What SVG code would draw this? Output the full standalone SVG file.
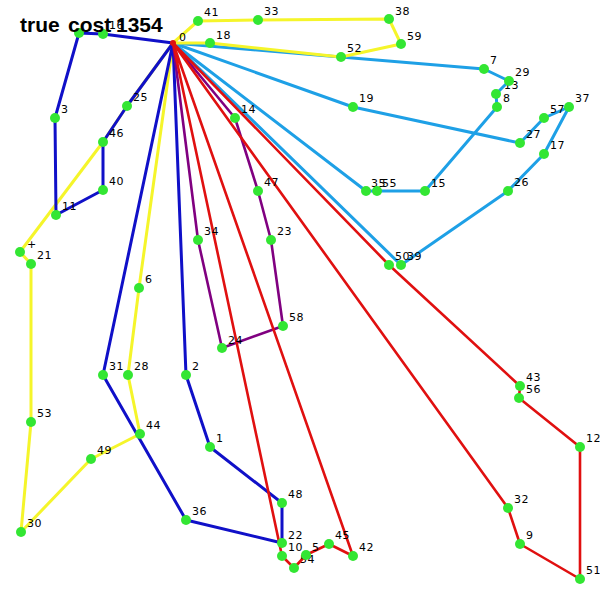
<svg xmlns="http://www.w3.org/2000/svg" width="600" height="600" viewBox="0 0 600 600">
<style>
.e{fill:none;stroke-width:3;stroke-linejoin:round;stroke-linecap:round}
.lb{stroke:#1ea0e6}
.ye{stroke:#f5f52a}
.bl{stroke:#1010c8}
.pu{stroke:#800080;stroke-width:2.6}
.rd{stroke:#e01010;stroke-width:2.6}
.n circle{fill:#33e633}
.n text{font-family:"DejaVu Sans",sans-serif;font-size:11px;letter-spacing:0.6px;fill:#000}
.t{font-family:"Liberation Sans",Arial,sans-serif;font-weight:bold;font-size:21px;fill:#000}
</style>
<rect width="600" height="600" fill="#ffffff"/>
<g id="connectors">
<polyline class="e lb" points="173,43 484,69 509,81 496,94 497,107 425,191 377,191 366,191 173,43"/>
<polyline class="e lb" points="173,43 353,107 520,143 544,118 569,107 544,154 508,191 401,265 173,43"/>
<polyline class="e ye" points="173,43 198,21 258,20 389,19 401,44 341,57 210,43 173,43"/>
<polyline class="e ye" points="173,43 139,288 128,375 140,434 91,459 21,532 31,422 31,264 20,252 103,142 127,106 173,43"/>
<polyline class="e bl" points="173,43 103,34 79,33 55,118 56,215 103,190 103,142 127,106 173,43"/>
<polyline class="e bl" points="173,43 186,375 210,447 282,503 282,543 186,520 103,375 173,43"/>
<polyline class="e pu" points="173,43 198,240 222,348 283,326 271,240 258,191 235,118 173,43"/>
<polyline class="e rd" points="173,43 282,556 294,568 306,555 329,544 353,556 173,43"/>
<polyline class="e rd" points="173,43 389,265 520,386 519,398 580,447 580,579 520,544 508,508 173,43"/>
</g>
<g class="n">
<g id="node-0"><circle cx="173" cy="43" r="3" style="fill:#e01010"/><text x="179" y="41">0</text></g>
<g id="node-16"><circle cx="103" cy="34" r="5"/><text x="109" y="29">16</text></g>
<g id="node-a"><circle cx="79" cy="33" r="5"/></g>
<g id="node-3"><circle cx="55" cy="118" r="5"/><text x="61" y="113">3</text></g>
<g id="node-11"><circle cx="56" cy="215" r="5"/><text x="62" y="210">11</text></g>
<g id="node-40"><circle cx="103" cy="190" r="5"/><text x="109" y="185">40</text></g>
<g id="node-46"><circle cx="103" cy="142" r="5"/><text x="109" y="137">46</text></g>
<g id="node-25"><circle cx="127" cy="106" r="5"/><text x="133" y="101">25</text></g>
<g id="node-plus"><circle cx="20" cy="252" r="5"/><text x="27" y="248">+</text></g>
<g id="node-21"><circle cx="31" cy="264" r="5"/><text x="37" y="259">21</text></g>
<g id="node-53"><circle cx="31" cy="422" r="5"/><text x="37" y="417">53</text></g>
<g id="node-30"><circle cx="21" cy="532" r="5"/><text x="27" y="527">30</text></g>
<g id="node-49"><circle cx="91" cy="459" r="5"/><text x="97" y="454">49</text></g>
<g id="node-44"><circle cx="140" cy="434" r="5"/><text x="146" y="429">44</text></g>
<g id="node-28"><circle cx="128" cy="375" r="5"/><text x="134" y="370">28</text></g>
<g id="node-6"><circle cx="139" cy="288" r="5"/><text x="145" y="283">6</text></g>
<g id="node-31"><circle cx="103" cy="375" r="5"/><text x="109" y="370">31</text></g>
<g id="node-36"><circle cx="186" cy="520" r="5"/><text x="192" y="515">36</text></g>
<g id="node-2"><circle cx="186" cy="375" r="5"/><text x="192" y="370">2</text></g>
<g id="node-1"><circle cx="210" cy="447" r="5"/><text x="216" y="442">1</text></g>
<g id="node-48"><circle cx="282" cy="503" r="5"/><text x="288" y="498">48</text></g>
<g id="node-22"><circle cx="282" cy="543" r="5"/><text x="288" y="539">22</text></g>
<g id="node-10"><circle cx="282" cy="556" r="5"/><text x="288" y="551">10</text></g>
<g id="node-54"><circle cx="294" cy="568" r="5"/><text x="300" y="563">54</text></g>
<g id="node-5"><circle cx="306" cy="555" r="5"/><text x="312" y="551">5</text></g>
<g id="node-45"><circle cx="329" cy="544" r="5"/><text x="335" y="539">45</text></g>
<g id="node-42"><circle cx="353" cy="556" r="5"/><text x="359" y="551">42</text></g>
<g id="node-34"><circle cx="198" cy="240" r="5"/><text x="204" y="235">34</text></g>
<g id="node-24"><circle cx="222" cy="348" r="5"/><text x="228" y="344">24</text></g>
<g id="node-58"><circle cx="283" cy="326" r="5"/><text x="289" y="321">58</text></g>
<g id="node-23"><circle cx="271" cy="240" r="5"/><text x="277" y="235">23</text></g>
<g id="node-47"><circle cx="258" cy="191" r="5"/><text x="264" y="186">47</text></g>
<g id="node-14"><circle cx="235" cy="118" r="5"/><text x="241" y="113">14</text></g>
<g id="node-41"><circle cx="198" cy="21" r="5"/><text x="204" y="16">41</text></g>
<g id="node-33"><circle cx="258" cy="20" r="5"/><text x="264" y="15">33</text></g>
<g id="node-38"><circle cx="389" cy="19" r="5"/><text x="395" y="15">38</text></g>
<g id="node-59"><circle cx="401" cy="44" r="5"/><text x="407" y="40">59</text></g>
<g id="node-52"><circle cx="341" cy="57" r="5"/><text x="347" y="52">52</text></g>
<g id="node-18"><circle cx="210" cy="43" r="5"/><text x="216" y="39">18</text></g>
<g id="node-19"><circle cx="353" cy="107" r="5"/><text x="359" y="102">19</text></g>
<g id="node-7"><circle cx="484" cy="69" r="5"/><text x="490" y="64">7</text></g>
<g id="node-13"><circle cx="496" cy="94" r="5"/><text x="504" y="89">13</text></g>
<g id="node-29"><circle cx="509" cy="81" r="5"/><text x="515" y="76">29</text></g>
<g id="node-8"><circle cx="497" cy="107" r="5"/><text x="503" y="102">8</text></g>
<g id="node-15"><circle cx="425" cy="191" r="5"/><text x="431" y="187">15</text></g>
<g id="node-35"><circle cx="366" cy="191" r="5"/><text x="371" y="187">35</text></g>
<g id="node-55"><circle cx="377" cy="191" r="5"/><text x="382" y="187">55</text></g>
<g id="node-27"><circle cx="520" cy="143" r="5"/><text x="526" y="138">27</text></g>
<g id="node-57"><circle cx="544" cy="118" r="5"/><text x="550" y="113">57</text></g>
<g id="node-37"><circle cx="569" cy="107" r="5"/><text x="575" y="102">37</text></g>
<g id="node-17"><circle cx="544" cy="154" r="5"/><text x="550" y="149">17</text></g>
<g id="node-26"><circle cx="508" cy="191" r="5"/><text x="514" y="186">26</text></g>
<g id="node-50"><circle cx="389" cy="265" r="5"/><text x="395" y="260">50</text></g>
<g id="node-39"><circle cx="401" cy="265" r="5"/><text x="407" y="260">39</text></g>
<g id="node-43"><circle cx="520" cy="386" r="5"/><text x="526" y="381">43</text></g>
<g id="node-56"><circle cx="519" cy="398" r="5"/><text x="526" y="393">56</text></g>
<g id="node-12"><circle cx="580" cy="447" r="5"/><text x="586" y="442">12</text></g>
<g id="node-51"><circle cx="580" cy="579" r="5"/><text x="586" y="574">51</text></g>
<g id="node-9"><circle cx="520" cy="544" r="5"/><text x="526" y="539">9</text></g>
<g id="node-32"><circle cx="508" cy="508" r="5"/><text x="514" y="503">32</text></g>
</g>
<text class="t" y="32"><tspan x="20">true</tspan><tspan x="68">cost</tspan><tspan x="116">1354</tspan></text>
</svg>
